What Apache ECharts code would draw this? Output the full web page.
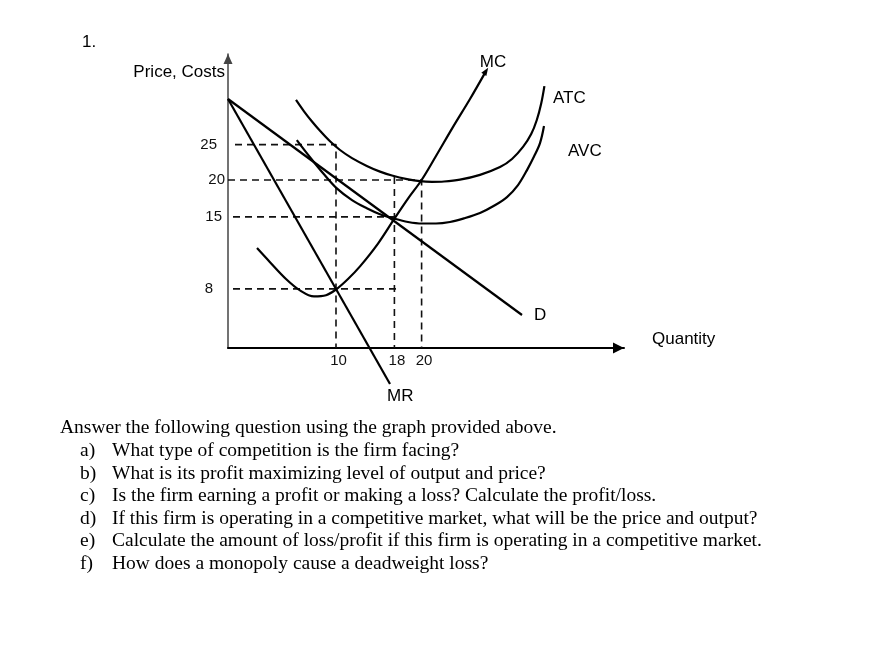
<!DOCTYPE html>
<html>
<head>
<meta charset="utf-8">
<script src="https://cdn.jsdelivr.net/npm/echarts@6/dist/echarts.min.js"></script>
<style>
  html, body { margin: 0; padding: 0; background: #fff; }
  #chart { width: 875px; height: 661px; }
</style>
</head>
<body>
<div id="chart"></div>
<script>
// ---- Data (schematic plot units: x 0..99, y 0..98) ----
const xTickValues = [27, 41.6, 48.4];
const xTickLabels = ['10', '18', '20'];
const yTickValues = [19.7, 43.7, 56, 67.8];
const yTickLabels = ['8', '15', '20', '25'];

const demandLine = [[0, 83], [73.5, 11]];
const mrLine = [[0, 83], [40.5, -12]];

const mcCurve = [[7.25, 33.3], [10.5, 28.6], [14.5, 23], [18, 19.2], [21.5, 17.2], [24.5, 17.6], [27, 19.5],
  [30, 23], [33, 27.2], [37.5, 34.8], [41.6, 43.1], [45, 49.8], [48.4, 56], [52, 64], [56.3, 73.8], [60.5, 83], [64.5, 92.3]];

const atcCurve = [[17, 82.7], [19, 78.9], [21, 75.5], [23, 72.4], [25.5, 68.9], [28, 66], [31, 63.3], [34.7, 60.7],
  [38, 58.8], [41, 57.5], [44.75, 56.3], [48, 55.6], [51, 55.4], [54, 55.5], [58, 56.1], [63, 57.7], [68, 60.3],
  [71, 63], [73.8, 67.1], [75.8, 71.3], [77.2, 76], [78.3, 81.5], [79.1, 87.3]];

const avcCurve = [[17.2, 69.3], [20.5, 63.6], [24, 57.9], [27.2, 53.2], [31, 49.3], [34.7, 46.6], [38, 44.6], [41.6, 43.1],
  [45, 42], [48.5, 41.5], [52, 41.5], [55.5, 42], [59, 43.2], [63, 45], [66.5, 47.4], [69.75, 50.3], [72.5, 54.3],
  [74.75, 59.3], [76.5, 63.8], [78, 68.3], [79, 74]];

const guide25 = [[1.75, 67.8], [27, 67.8], [27, 0]];
const guide20 = [[0, 56], [48.4, 56], [48.4, 0]];
const guide15 = [[1.25, 43.7], [41.6, 43.7]];
const guide18 = [[41.6, 57], [41.6, 0]];
const guide8 = [[1.25, 19.7], [42, 19.7]];

const curveNames = ['MC', 'ATC', 'AVC', 'D', 'MR'];
const axisTitles = ['Price, Costs', 'Quantity'];
const questionNumber = '1.';
const introLine = 'Answer the following question using the graph provided above.';
const questionLetters = ['a)', 'b)', 'c)', 'd)', 'e)', 'f)'];
const questionLines = [
  'What type of competition is the firm facing?',
  'What is its profit maximizing level of output and price?',
  'Is the firm earning a profit or making a loss? Calculate the profit/loss.',
  'If this firm is operating in a competitive market, what will be the price and output?',
  'Calculate the amount of loss/profit if this firm is operating in a competitive market.',
  'How does a monopoly cause a deadweight loss?'
];

// ---- Chart ----
const chart = echarts.init(document.getElementById('chart'), null, { renderer: 'canvas' });
const SANS = '"Liberation Sans", Arial, sans-serif';
const SERIF = '"Liberation Serif", "Times New Roman", serif';
const INK = '#000';

const curveStyle = { color: INK, width: 2.2 };
const dashStyle = { color: '#111', width: 1.6, type: [7, 5] };

function curveSeries(name, data, smooth) {
  return { name, type: 'line', data, smooth, symbol: 'none', clip: false, lineStyle: curveStyle, silent: true, z: 3 };
}
function guideSeries(data) {
  return { type: 'line', data, symbol: 'none', clip: false, lineStyle: dashStyle, silent: true, z: 2 };
}

const mcData = mcCurve.map((p, i) => i === mcCurve.length - 1
  ? { value: p, symbol: 'triangle', symbolSize: [6, 8], symbolRotate: -33, itemStyle: { color: INK } }
  : p);

const yPad = { '8': 12, '15': 3, '20': 0, '25': 8 };
const yRich = {};
yTickLabels.forEach(l => { yRich['t' + l] = { padding: [0, yPad[l], 0, 0], fontSize: 15, fontFamily: SANS, color: '#111' }; });

function txt(text, x, y, align, size, family) {
  return {
    type: 'text', silent: true,
    style: { text, x, y, align, textAlign: align, verticalAlign: 'middle', textVerticalAlign: 'middle',
      font: size + 'px ' + family, fill: INK }
  };
}

const graphics = [
  txt(questionNumber, 82, 42, 'left', 17, SANS),
  txt(axisTitles[0], 225, 72, 'right', 17, SANS),
  txt(axisTitles[1], 652, 339, 'left', 17, SANS),
  txt(curveNames[0], 493, 62, 'center', 17, SANS),
  txt(curveNames[1], 553, 98, 'left', 17, SANS),
  txt(curveNames[2], 568, 151, 'left', 17, SANS),
  txt(curveNames[3], 534, 315, 'left', 17, SANS),
  txt(curveNames[4], 387, 396, 'left', 17, SANS),
  txt(introLine, 60, 428, 'left', 19.5, SERIF)
];
questionLetters.forEach((l, i) => {
  graphics.push(txt(l, 80, 451 + i * 22.5, 'left', 19.5, SERIF));
  graphics.push(txt(questionLines[i], 112, 451 + i * 22.5, 'left', 19.5, SERIF));
});

chart.setOption({
  animation: false,
  backgroundColor: '#fff',
  grid: { left: 228, top: 54, width: 396, height: 294, containLabel: false, outerBoundsMode: 'none' },
  xAxis: {
    type: 'value', min: 0, max: 99,
    axisLine: { show: true, onZero: false, symbol: ['none', 'triangle'], symbolSize: [11, 11], symbolOffset: [0, -5.5],
      lineStyle: { color: INK, width: 2 } },
    axisTick: { show: false },
    splitLine: { show: false },
    axisLabel: {
      show: true, customValues: xTickValues, margin: 5, padding: [0, 0, 0, 5],
      formatter: v => { const i = xTickValues.indexOf(v); return i >= 0 ? xTickLabels[i] : ''; },
      fontSize: 15, fontFamily: SANS, color: '#111'
    }
  },
  yAxis: {
    type: 'value', min: 0, max: 98,
    axisLine: { show: true, onZero: false, symbol: ['none', 'triangle'], symbolSize: [9, 10], symbolOffset: [0, -5],
      lineStyle: { color: '#444', width: 1.5 } },
    axisTick: { show: false },
    splitLine: { show: false },
    axisLabel: {
      show: true, customValues: yTickValues, margin: 3,
      formatter: v => { const i = yTickValues.indexOf(v); return i >= 0 ? '{t' + yTickLabels[i] + '|' + yTickLabels[i] + '}' : ''; },
      rich: yRich
    }
  },
  series: [
    guideSeries(guide25), guideSeries(guide20), guideSeries(guide15), guideSeries(guide18), guideSeries(guide8),
    curveSeries('D', demandLine, false),
    curveSeries('MR', mrLine, false),
    curveSeries('MC', mcData, 0.35),
    curveSeries('ATC', atcCurve, 0.35),
    curveSeries('AVC', avcCurve, 0.35)
  ],
  graphic: { elements: graphics }
});
</script>
</body>
</html>
